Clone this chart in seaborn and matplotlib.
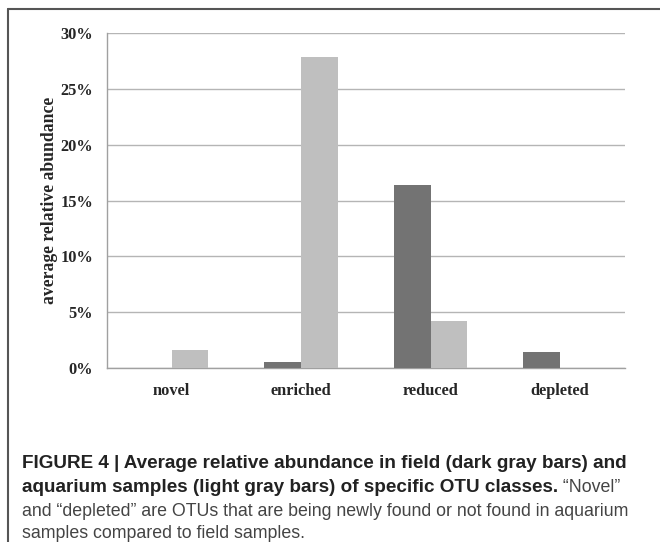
import pandas as pd
import matplotlib.pyplot as plt
import seaborn as sns
from matplotlib.lines import Line2D
from matplotlib.ticker import FuncFormatter

sns.set_style('white')

# data (percent)
categories = ['novel', 'enriched', 'reduced', 'depleted']
field = [0.0, 0.55, 16.4, 1.45]
aquarium = [1.6, 27.9, 4.2, 0.0]
yticks = [0, 5, 10, 15, 20, 25, 30]

df = pd.DataFrame({
    'category': categories * 2,
    'sample': ['field'] * 4 + ['aquarium'] * 4,
    'abundance': field + aquarium,
})

fig = plt.figure(figsize=(6.6, 5.42), dpi=100)
ax = fig.add_axes([0.1621, 0.321, 0.7844, 0.618])

sns.barplot(data=df, x='category', y='abundance', hue='sample',
            order=categories, hue_order=['field', 'aquarium'],
            palette={'field': '#737373', 'aquarium': '#bfbfbf'},
            width=0.567, saturation=1, legend=False, linewidth=0, ax=ax, zorder=3)

ax.set_xlim(-0.5, 3.5)
ax.set_ylim(0, 30)
ax.set_yticks(yticks)
ax.yaxis.set_major_formatter(FuncFormatter(lambda v, p: f'{v:.0f}%'))
ax.grid(axis='y', color='#b5b5b5', lw=1, zorder=0)
ax.set_axisbelow(True)

for s in ['top', 'right']:
    ax.spines[s].set_visible(False)
for s in ['left', 'bottom']:
    ax.spines[s].set_color('#a0a0a0')
    ax.spines[s].set_linewidth(1)

serif = ['Liberation Serif', 'DejaVu Serif']
ax.set_xticks(range(4))
ax.set_xticklabels(categories, family=serif, fontweight='bold', fontsize=11.8)
ax.set_xticks([-0.5, 0.5, 1.5, 2.5, 3.5], minor=True)
ax.tick_params(axis='x', which='major', length=0, pad=11)
ax.tick_params(axis='x', which='minor', length=4, color='#a0a0a0', direction='out')
ax.tick_params(axis='y', length=4, color='#a0a0a0', pad=6)
for lab in ax.get_yticklabels():
    lab.set_family(serif)
    lab.set_fontweight('bold')
    lab.set_fontsize(11.8)
ax.set_xlabel('')
ax.set_ylabel('average relative abundance', family=serif, fontweight='bold',
              fontsize=12.7, labelpad=2)

# outer frame (left and top edges)
fig.add_artist(Line2D([8 / 660, 8 / 660], [0, 1 - 9 / 542], color='#555555', lw=1.5))
fig.add_artist(Line2D([8 / 660, 1], [1 - 9 / 542, 1 - 9 / 542], color='#555555', lw=1.5))

# caption
sans = ['Liberation Sans', 'DejaVu Sans']
bold_size = 13.6
reg_size = 12.8
x0 = 22 / 660
fig.text(x0, 1 - 463 / 542, 'FIGURE 4 | Average relative abundance in field (dark gray bars) and',
         family=sans, fontweight='bold', fontsize=bold_size, color='#222222', va='center')
t2 = fig.text(x0, 1 - 488 / 542, 'aquarium samples (light gray bars) of specific OTU classes.',
              family=sans, fontweight='bold', fontsize=bold_size, color='#222222', va='center')
fig.canvas.draw()
bb = t2.get_window_extent(renderer=fig.canvas.get_renderer())
fig.text(bb.x1 / fig.bbox.width, 1 - 488 / 542, ' \u201cNovel\u201d',
         family=sans, fontsize=reg_size, color='#444444', va='center')
fig.text(x0, 1 - 512 / 542, 'and \u201cdepleted\u201d are OTUs that are being newly found or not found in aquarium',
         family=sans, fontsize=reg_size, color='#444444', va='center')
fig.text(x0, 1 - 534 / 542, 'samples compared to field samples.',
         family=sans, fontsize=reg_size, color='#444444', va='center')

fig.savefig('out.png', dpi=100)
